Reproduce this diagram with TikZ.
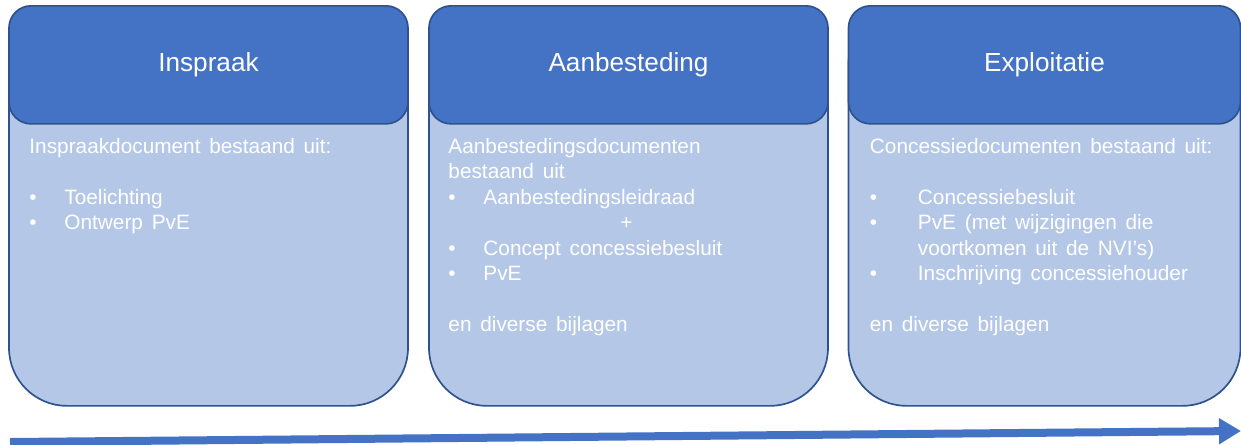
\documentclass[tikz,border=0pt]{standalone}
\usepackage{fontspec}
\setmainfont{Liberation Sans}
\usetikzlibrary{arrows.meta}
\definecolor{kopblauw}{HTML}{4472C4}
\definecolor{randblauw}{HTML}{2F528F}
\definecolor{lijfblauw}{HTML}{B4C7E7}
\newcommand{\lijffont}{\fontsize{14.8}{18.1}\selectfont\spaceskip 0.42em plus 0.1em\relax}
\tikzset{kop style/.style={
		draw=randblauw,
		line width=1.2pt,
		fill=kopblauw,
		text=white,
		rectangle,
		rounded corners=0.55cm,
		minimum width=9.975cm,
		minimum height=2.95cm,
		font=\fontsize{18.6}{22}\selectfont,
		anchor=north,
	},
	lijf style/.style={
		draw=randblauw,
		line width=1.2pt,
		fill=lijfblauw,
		rectangle,
		rounded corners=1.45cm,
		minimum width=9.975cm,
		minimum height=10cm,
		anchor=north,
	},
	tekst style/.style={
		text=white,
		align=left,
		anchor=north west,
		inner sep=0pt,
		font=\lijffont,
	},
	pijl style/.style={
		draw=kopblauw,
		line width=0.2cm,
		-{Triangle[length=0.55cm,width=0.62cm]}
	}
}
\newcommand{\punt}[2][0.875cm]{\makebox[#1][l]{\textbullet}#2}

\begin{document}
\begin{tikzpicture}[node distance=10.5cm]
	\useasboundingbox (0,0) rectangle (31.025,-11.1);
	
	\node[lijf style] (InspraakLijf) at (5.2125,-0.125) {};
	\node[kop style] (Inspraak) at (InspraakLijf.north) {Inspraak};
	\node[tekst style, xshift=0.525cm, yshift=-3.325cm] (InspraakTekst) at (InspraakLijf.north west)
	{Inspraakdocument bestaand uit:\\[18.1pt]
		\punt{Toelichting}\\
		\punt{Ontwerp PvE}};
	
	\node[lijf style, right of=InspraakLijf] (AanbestedingLijf) {};
	\node[kop style] (Aanbesteding) at (AanbestedingLijf.north) {Aanbesteding};
	\node[tekst style, xshift=0.5cm, yshift=-3.325cm] (AanbestedingTekst) at (AanbestedingLijf.north west)
	{Aanbestedingsdocumenten\\
		bestaand uit\\
		\punt{Aanbestedingsleidraad}\\
		\hspace*{4.3cm}+\\
		\punt{Concept concessiebesluit}\\
		\punt{PvE}\\[18.1pt]
		en diverse bijlagen};
	
	\node[lijf style, right of=AanbestedingLijf, xshift=-0.1cm, minimum width=9.8cm] (ExploitatieLijf) {};
	\node[kop style, minimum width=9.8cm] (Exploitatie) at (ExploitatieLijf.north) {Exploitatie};
	\node[tekst style, xshift=0.55cm, yshift=-3.325cm] (ExploitatieTekst) at (ExploitatieLijf.north west)
	{Concessiedocumenten bestaand uit:\\[18.1pt]
		\punt[1.2cm]{Concessiebesluit}\\
		\punt[1.2cm]{PvE (met wijzigingen die}\\
		\hspace*{1.2cm}voortkomen uit de NVI’s)\\
		\punt[1.2cm]{Inschrijving concessiehouder}\\[18.1pt]
		en diverse bijlagen};
	
	\coordinate (Begin) at (0.25,-11.05);
	\coordinate (Eind) at (31.025,-10.775);
	\draw[pijl style] (Begin) -- (Eind);
\end{tikzpicture}
\end{document}
